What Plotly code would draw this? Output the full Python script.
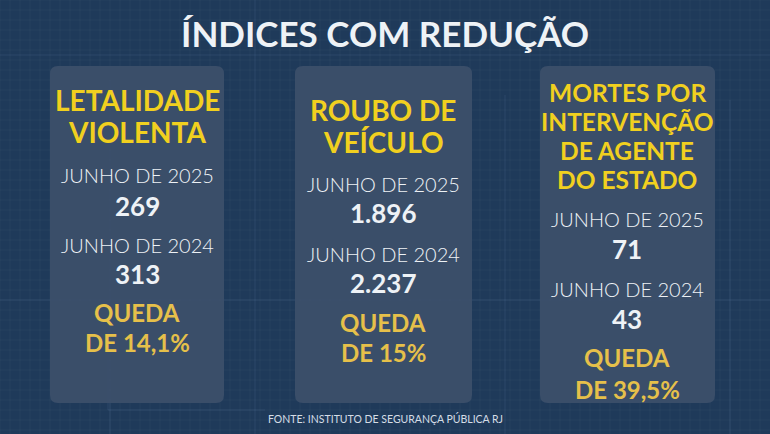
import plotly.graph_objects as go

# =============================================================================
# DADOS
# =============================================================================
titulo = "ÍNDICES COM REDUÇÃO"
fonte = "FONTE: INSTITUTO DE SEGURANÇA PÚBLICA RJ"

indicadores = [
    ["LETALIDADE", "VIOLENTA"],
    ["ROUBO DE", "VEÍCULO"],
    ["MORTES POR", "INTERVENÇÃO", "DE AGENTE", "DO ESTADO"],
]
periodos = ["JUNHO DE 2025", "JUNHO DE 2024"]
valores_2025 = [269, 1896, 71]
valores_2024 = [313, 2237, 43]
quedas = ["14,1%", "15%", "39,5%"]

# =============================================================================
# LAYOUT (pixels)
# =============================================================================
W, H = 770, 434
BG = "#1f3a5a"
CARD = "rgba(60,80,106,0.93)"
AMARELO = "#f1d01f"
DOURADO = "#e6c04a"
BRANCO = "#eef2f6"
FONTE = "Lato"

cards = [
    dict(x0=50, x1=224, y0=66, y1=403, cx=137, tit=[100, 132],
         per=[175, 245], val=[206, 274], qd=[312, 342], tsize=28),
    dict(x0=295, x1=472, y0=66, y1=403, cx=383, tit=[110, 142],
         per=[184, 254], val=[213, 283], qd=[322, 352], tsize=28),
    dict(x0=540, x1=715, y0=66, y1=403, cx=627, tit=[92, 121, 150, 179],
         per=[219, 289], val=[249, 319], qd=[357, 389], tsize=24.5),
]


def fmt(v):
    return f"{v:,}".replace(",", ".")


def rounded(x0, y0, x1, y1, r=8):
    return (f"M{x0+r},{y0} L{x1-r},{y0} Q{x1},{y0} {x1},{y0+r} "
            f"L{x1},{y1-r} Q{x1},{y1} {x1-r},{y1} L{x0+r},{y1} "
            f"Q{x0},{y1} {x0},{y1-r} L{x0},{y0+r} Q{x0},{y0} {x0+r},{y0} Z")


fig = go.Figure()
shapes = []
annotations = []

# grade de fundo bem sutil
for gx in range(0, W, 10):
    shapes.append(dict(type="line", x0=gx, x1=gx, y0=0, y1=H,
                       line=dict(color="rgba(255,255,255,0.03)", width=1), layer="below"))
for gy in range(0, H, 10):
    shapes.append(dict(type="line", x0=0, x1=W, y0=gy, y1=gy,
                       line=dict(color="rgba(255,255,255,0.03)", width=1), layer="below"))

# linhas decorativas
for (x0, y0, x1, y1) in [(0, 55, 770, 55), (0, 300, 770, 300), (110, 80, 110, 434),
                         (255, 0, 255, 434), (505, 95, 505, 434), (730, 100, 730, 434),
                         (108, 410, 265, 410), (108, 410, 108, 300)]:
    shapes.append(dict(type="line", x0=x0, x1=x1, y0=y0, y1=y1,
                       line=dict(color="rgba(140,170,210,0.12)", width=1), layer="below"))

for i, c in enumerate(cards):
    shapes.append(dict(type="path", path=rounded(c["x0"], c["y0"], c["x1"], c["y1"]),
                       fillcolor=CARD, line=dict(width=0), layer="below"))
    for linha, y in zip(indicadores[i], c["tit"]):
        annotations.append(dict(x=c["cx"], y=y, text=f"<b>{linha}</b>",
                                font=dict(family=FONTE, size=c["tsize"], color=AMARELO)))
    for per, y in zip(periodos, c["per"]):
        annotations.append(dict(x=c["cx"], y=y, text=per,
                                font=dict(family=FONTE, size=20, color=BRANCO, weight=300)))
    for v, y in zip([valores_2025[i], valores_2024[i]], c["val"]):
        annotations.append(dict(x=c["cx"], y=y, text=f"<b>{fmt(v)}</b>",
                                font=dict(family=FONTE, size=26, color=BRANCO)))
    for t, y in zip(["QUEDA", f"DE {quedas[i]}"], c["qd"]):
        annotations.append(dict(x=c["cx"], y=y, text=f"<b>{t}</b>",
                                font=dict(family=FONTE, size=24, color=DOURADO)))

annotations.append(dict(x=385, y=33, text=f"<b>{titulo}</b>",
                        font=dict(family=FONTE, size=35, color=BRANCO)))
annotations.append(dict(x=385, y=418, text=fonte,
                        font=dict(family=FONTE, size=10.5, color="#d5dde6")))

for a in annotations:
    a.update(xref="x", yref="y", showarrow=False, xanchor="center", yanchor="middle")

fig.update_layout(
    width=W, height=H,
    margin=dict(l=0, r=0, t=0, b=0),
    paper_bgcolor=BG, plot_bgcolor=BG,
    xaxis=dict(range=[0, W], visible=False, fixedrange=True),
    yaxis=dict(range=[H, 0], visible=False, fixedrange=True),
    shapes=shapes,
    annotations=annotations,
    showlegend=False,
)

fig.write_html("out.html", config={"displayModeBar": False},
               post_script="document.body.style.margin='0';")
